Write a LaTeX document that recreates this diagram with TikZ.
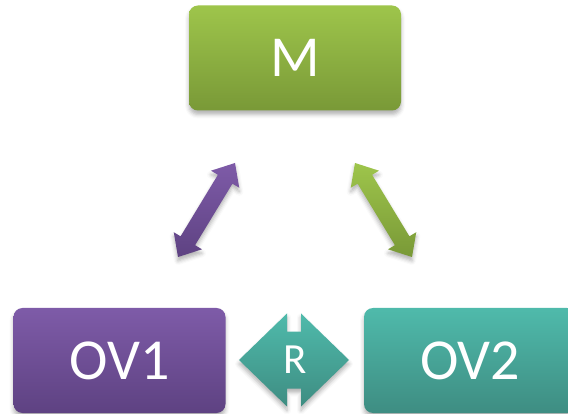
\documentclass[tikz,border=0pt]{standalone}
\usepackage{fontspec}
\setmainfont{Carlito}
\usetikzlibrary{calc,shadows.blur}
\definecolor{mTop}{RGB}{158,197,75}
\definecolor{mBot}{RGB}{121,153,55}
\definecolor{pTop}{RGB}{126,91,168}
\definecolor{pBot}{RGB}{94,66,130}
\definecolor{tTop}{RGB}{79,186,171}
\definecolor{tBot}{RGB}{62,141,130}
\newcommand\dblarr[6]{%
  \coordinate (#1h) at ($(#1)!#5!(#2)$);
  \coordinate (#2h) at ($(#2)!#5!(#1)$);
  \path[#6] (#1) -- ($(#1h)!#4!90:(#2)$) -- ($(#1h)!#3!90:(#2)$)
    -- ($(#2h)!#3!-90:(#1)$) -- ($(#2h)!#4!-90:(#1)$) -- (#2)
    -- ($(#2h)!#4!90:(#1)$) -- ($(#2h)!#3!90:(#1)$)
    -- ($(#1h)!#3!-90:(#2)$) -- ($(#1h)!#4!-90:(#2)$) -- cycle;}
\begin{document}
\begin{tikzpicture}[x=1pt,y=-1pt,
  softshadow/.style={blur shadow={shadow xshift=0pt, shadow yshift=-4pt, shadow opacity=30, shadow blur radius=4pt}},
  box/.style={rounded corners=9pt, minimum width=212pt, minimum height=105pt,
    inner sep=0pt, text=white, font=\fontsize{58}{58}\selectfont, softshadow},
  arrshape/.style={softshadow}]
\useasboundingbox (0,0) rectangle (568,414);
\clip (0,0) rectangle (568,414);
\node[box, top color=mTop, bottom color=mBot] (M) at (295,58) {M};
\node[box, top color=pTop, bottom color=pBot] (OV1) at (119.5,360.5) {OV1};
\node[box, top color=tTop, bottom color=tBot] (OV2) at (470,360.5) {OV2};
\coordinate (pa) at (178,257);
\coordinate (pb) at (235,163);
\coordinate (ga) at (355,163);
\coordinate (gb) at (412,257);
\coordinate (ra) at (239,360);
\coordinate (rb) at (349,360);
\dblarr{pa}{pb}{8.5pt}{16.5pt}{19pt}{arrshape, top color=pTop, bottom color=pBot}
\dblarr{ga}{gb}{8.5pt}{16.5pt}{19pt}{arrshape, top color=mTop, bottom color=mBot}
\dblarr{ra}{rb}{28.5pt}{46.5pt}{48pt}{arrshape, top color=tTop, bottom color=tBot}
\node[text=white, font=\fontsize{43}{43}\selectfont, inner sep=0pt] (R) at (295,360) {R};
\end{tikzpicture}
\end{document}
